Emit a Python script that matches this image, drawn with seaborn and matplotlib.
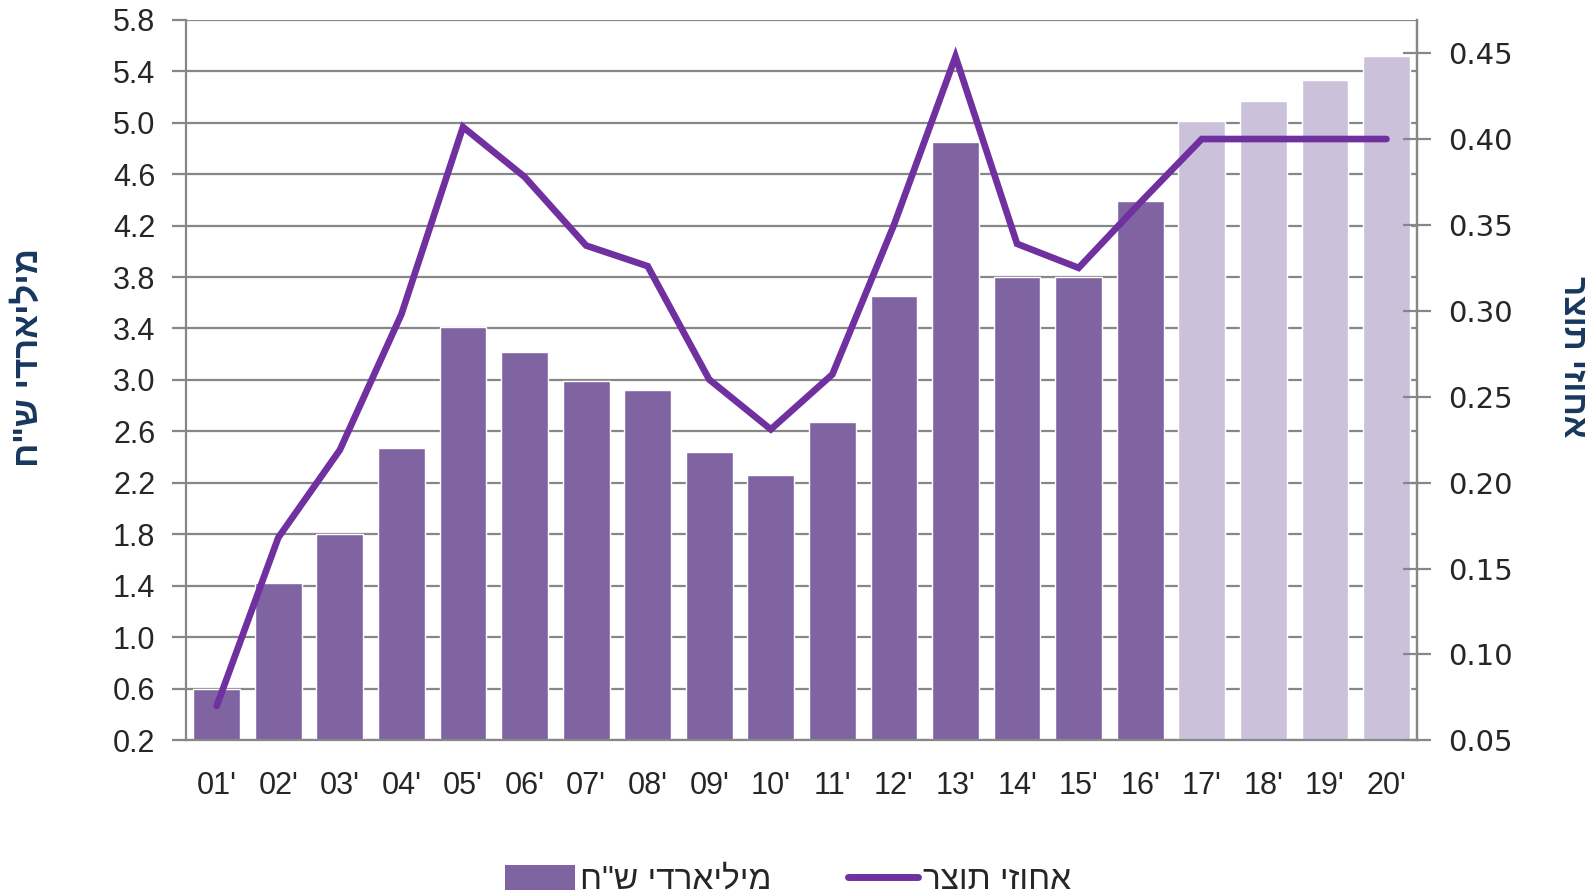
import numpy as np
import seaborn as sns
import matplotlib.pyplot as plt
from matplotlib.patches import Patch
from matplotlib.lines import Line2D

# data
years = ["01'", "02'", "03'", "04'", "05'", "06'", "07'", "08'", "09'", "10'",
         "11'", "12'", "13'", "14'", "15'", "16'", "17'", "18'", "19'", "20'"]
billions = [0.60, 1.42, 1.80, 2.47, 3.41, 3.22, 2.99, 2.92, 2.44, 2.26,
            2.67, 3.65, 4.85, 3.80, 3.80, 4.39, 5.01, 5.17, 5.33, 5.52]
gdp_pct = [0.070, 0.168, 0.219, 0.298, 0.407, 0.378, 0.338, 0.326, 0.260, 0.231,
           0.263, 0.350, 0.448, 0.339, 0.325, 0.363, 0.400, 0.400, 0.400, 0.400]
is_forecast = [False] * 16 + [True] * 4

left_ticks = [0.2, 0.6, 1.0, 1.4, 1.8, 2.2, 2.6, 3.0, 3.4, 3.8, 4.2, 4.6, 5.0, 5.4, 5.8]
right_ticks = [0.05, 0.10, 0.15, 0.20, 0.25, 0.30, 0.35, 0.40, 0.45]

bar_label = 'מיליארדי ש"ח'
line_label = 'אחוזי תוצר'


def rtl(s):
    # matplotlib lays glyphs out left to right, so flip Hebrew for display
    return s[::-1]


bar_color = '#8064A2'
forecast_color = '#CCC1DA'
line_color = '#7030A0'
grid_color = '#878787'
label_color = '#17375E'

sns.set_style('white')
plt.rcParams['font.family'] = ['Liberation Sans', 'DejaVu Sans']

fig = plt.figure(figsize=(15.96, 8.93), dpi=100)
ax = fig.add_axes([0.1165, 0.171, 0.7715, 0.807])

colors = [forecast_color if f else bar_color for f in is_forecast]
sns.barplot(x=years, y=billions, hue=years, palette=colors, legend=False,
            width=0.76, saturation=1, ax=ax, zorder=2)
ax.set_ylim(0.2, 5.8)
ax.set_xlim(-0.5, len(years) - 0.5)
ax.set_yticks(left_ticks)
ax.set_yticklabels([f'{t:.1f}' for t in left_ticks], fontsize=22)
ax.set_axisbelow(True)
ax.yaxis.grid(True, color=grid_color, lw=1.6)
ax.tick_params(axis='y', direction='out', length=10, width=1.6, color=grid_color, pad=12)
ax.tick_params(axis='x', which='major', length=0, labelsize=22, pad=22)
ax.set_xticks(np.arange(-0.5, len(years), 1.0), minor=True)
ax.tick_params(axis='x', which='minor', direction='out', length=10, width=1.6, color=grid_color)
ax.set_xlabel('')
for side in ['left', 'right', 'bottom', 'top']:
    ax.spines[side].set_color(grid_color)
    ax.spines[side].set_linewidth(1.6)
ax.spines['top'].set_visible(False)

ax2 = ax.twinx()
sns.lineplot(x=np.arange(len(years)), y=gdp_pct, color=line_color, lw=4.8,
             solid_capstyle='round', solid_joinstyle='miter', ax=ax2, zorder=3)
ax2.set_ylim(0.05, 0.4695)
ax2.set_yticks(right_ticks)
ax2.set_yticklabels([f'{t:.2f}' for t in right_ticks], fontsize=21, family='DejaVu Sans')
ax2.tick_params(axis='y', direction='inout', length=20, width=1.6, color=grid_color, pad=12)
for side in ['left', 'right', 'bottom', 'top']:
    ax2.spines[side].set_visible(False)
ax2.spines['right'].set_visible(True)
ax2.spines['right'].set_color(grid_color)
ax2.spines['right'].set_linewidth(1.6)

fig.text(0.0175, 0.6, rtl(bar_label), rotation=90, ha='center', va='center',
         fontsize=25, fontweight='bold', color=label_color)
fig.text(0.985, 0.6, rtl(line_label), rotation=270, ha='center', va='center',
         fontsize=24, fontweight='bold', color=label_color)

handles = [Patch(facecolor=bar_color, edgecolor='none'),
           Line2D([0], [0], color=line_color, lw=5, solid_capstyle='round')]
fig.legend(handles, [rtl(bar_label), rtl(line_label)], loc='center',
           bbox_to_anchor=(0.494, 0.014), ncol=2, frameon=False, fontsize=24,
           handlelength=2.1, handleheight=0.75, handletextpad=0.15, columnspacing=2.3)

fig.savefig('out.png', dpi=100)
